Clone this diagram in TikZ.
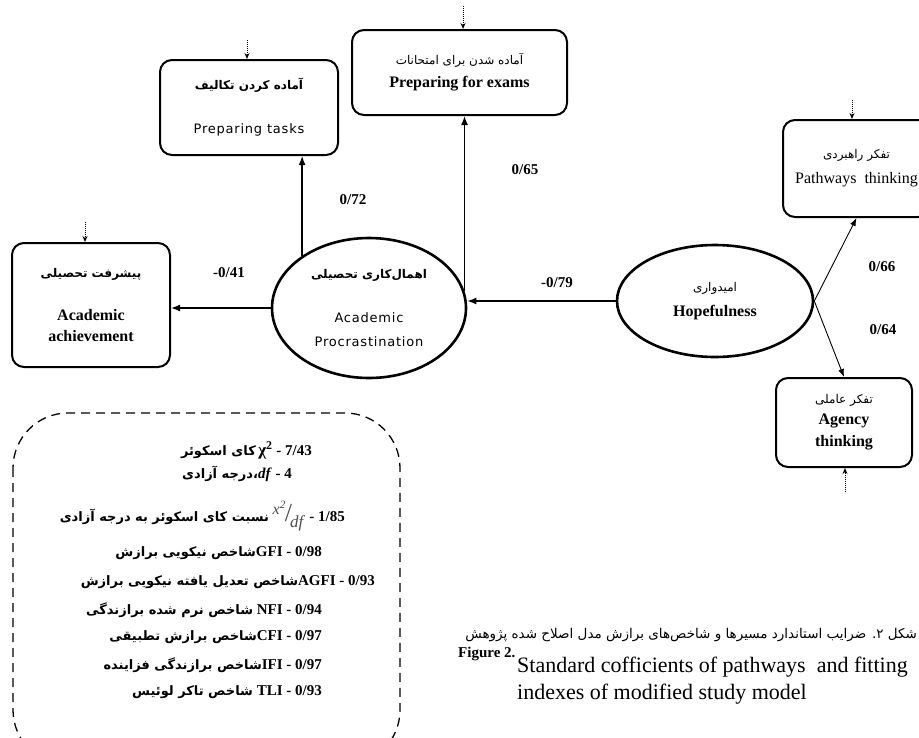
\documentclass[tikz,border=0pt]{standalone}
\usepackage{fontspec}
\setmainfont{Liberation Serif}
\newfontfamily\fa[Script=Arabic]{DejaVu Sans}
\newfontfamily\verd[LetterSpace=6]{DejaVu Sans}
\TeXXeTstate=1
\usetikzlibrary{shapes.geometric,arrows.meta}
\newcommand{\pers}[1]{{\fa\beginR #1\endR}}
\newcommand{\fsz}[1]{\fontsize{#1}{#1}\selectfont}

\begin{document}
\begin{tikzpicture}[x=1pt,y=-1pt,
    obsbox/.style={draw, rounded corners=12pt, line width=2pt, align=center, inner sep=0pt},
    latent/.style={draw, ellipse, line width=2.6pt, align=center, inner sep=0pt},
    pathline/.style={-{Latex[length=9pt,width=7pt]}, line width=1.4pt},
    thinline/.style={-{Latex[length=8pt,width=6pt]}, line width=0.9pt},
    errarrow/.style={-{Stealth[length=6pt,width=5pt]}, line width=1pt, densely dotted},
    coef/.style={font=\fsz{15}\bfseries},
    fitline/.style={anchor=east, font=\fsz{15}\bfseries, inner sep=0pt}]
    \useasboundingbox (0,0) rectangle (919,737);
    \clip (0,0) rectangle (919,737);

    % observed variables
    \node[obsbox, minimum width=215, minimum height=85] (exams) at (459.5,72.5)
        {{\fsz{12}\pers{آماده شدن برای امتحانات}}\\[8pt]{\fsz{16}\bfseries Preparing for exams}};
    \node[obsbox, minimum width=178, minimum height=95] (tasks) at (249,107.5)
        {{\fsz{12}\bfseries\pers{آماده کردن تکالیف}}\\[30pt]{\fsz{13}\verd Preparing tasks}};
    \node[obsbox, minimum width=158, minimum height=124] (achiev) at (91,305)
        {{\fsz{12}\bfseries\pers{پیشرفت تحصیلی}}\\[28pt]{\fsz{16}\bfseries Academic}\\[9pt]{\fsz{16}\bfseries achievement}};
    \node[obsbox, minimum width=147, minimum height=97] (pathw) at (856.5,168.5)
        {{\fsz{12}\pers{تفکر راهبردی}}\\[10pt]{\fsz{16}Pathways\ \ thinking}};
    \node[obsbox, minimum width=136, minimum height=89] (agency) at (844,422.5)
        {{\fsz{12}\pers{تفکر عاملی}}\\[6pt]{\fsz{16}\bfseries Agency}\\[7pt]{\fsz{16}\bfseries thinking}};

    % latent variables
    \node[latent, minimum width=194, minimum height=140] (proc) at (369,308)
        {{\fsz{12}\bfseries\pers{اهمال‌کاری تحصیلی}}\\[30pt]{\fsz{13}\verd Academic}\\[12pt]{\fsz{13}\verd Procrastination}};
    \node[latent, minimum width=196, minimum height=112] (hope) at (715,301)
        {{\fsz{12}\pers{امیدواری}}\\[10pt]{\fsz{16}\bfseries Hopefulness}};

    % error terms
    \coordinate (eexams) at (463,6);
    \coordinate (etasks) at (247,40);
    \coordinate (eachiev) at (85,222);
    \coordinate (epathw) at (852,100);
    \coordinate (eagency) at (845,492);
    \draw[errarrow] (eexams) -- (eexams |- exams.north);
    \draw[errarrow] (etasks) -- (etasks |- tasks.north);
    \draw[errarrow] (eachiev) -- (eachiev |- achiev.north);
    \draw[errarrow] (epathw) -- (epathw |- pathw.north);
    \draw[errarrow] (eagency) -- (eagency |- agency.south);

    % paths
    \draw[pathline] (proc.west) -- (proc.west -| achiev.east);
    \draw[pathline] (proc.142.7) -- (proc.142.7 |- tasks.south);
    \draw[pathline] (proc.10.3) -- (proc.10.3 |- exams.south);
    \draw[pathline] (hope.west) -- (hope.west -| proc.east);
    \draw[thinline] (hope.east) -- (pathw.south);
    \draw[thinline] (hope.east) -- (agency.north);

    % coefficients
    \node[coef] (c72) at (353,200) {0/72};
    \node[coef] (c65) at (525,170) {0/65};
    \node[coef] (c41) at (229,273) {-0/41};
    \node[coef] (c79) at (557,283) {-0/79};
    \node[coef] (c66) at (882,267) {0/66};
    \node[coef] (c64) at (883,330) {0/64};

    % fit indexes
    \draw[line width=1.3pt, dash pattern=on 9pt off 6pt, rounded corners=55pt]
        (13,413) rectangle (400,765);
    \node[fitline] (fchi) at (312,450) {{\fsz{13}\pers{کای اسکوئر}}\,{\fsz{17}χ\textsuperscript{2}} - 7/43};
    \node[fitline] (fdf) at (292,474) {{\fsz{13}\pers{درجه آزادی}{\fa ،}}\textit{df} - 4};
    \node[fitline] (fratio) at (345,516) {{\fsz{13}\pers{نسبت کای اسکوئر به درجه آزادی}}\ %
        {\mdseries\color{black!70}\raisebox{7pt}{\itshape\fsz{16}x\textsuperscript{2}}\kern-1pt{\fsz{26}/}\kern-2pt\raisebox{-6pt}{\itshape\fsz{17}df}}\hspace{6pt}- 1/85};
    \node[fitline] (fgfi) at (322,553) {{\fsz{13}\pers{شاخص نیکویی برازش}}GFI - 0/98};
    \node[fitline] (fagfi) at (375,582) {{\fsz{13}\pers{شاخص تعدیل یافته نیکویی برازش}}AGFI - 0/93};
    \node[fitline] (fnfi) at (322,610) {{\fsz{13}\pers{شاخص نرم شده برازندگی}} NFI - 0/94};
    \node[fitline] (fcfi) at (322,637) {{\fsz{13}\pers{شاخص برازش تطبیقی}}CFI - 0/97};
    \node[fitline] (fifi) at (322,665) {{\fsz{13}\pers{شاخص برازندگی فزاینده}}IFI - 0/97};
    \node[fitline] (ftli) at (322,692) {{\fsz{13}\pers{شاخص تاکر لوئیس}} TLI - 0/93};

    % caption
    \node[anchor=east, font=\fsz{13.5}, inner sep=0pt] (capfa) at (917,635)
        {\pers{شکل ۲. ضرایب استاندارد مسیرها و شاخص‌های برازش مدل اصلاح شده پژوهش}};
    \node[anchor=west, font=\fsz{15}\bfseries, inner sep=0pt] (figlbl) at (458,654) {Figure 2.};
    \node[anchor=west, font=\fsz{22}, inner sep=0pt] (capen1) at (517,667)
        {Standard cofficients of pathways\ \ and fitting};
    \node[anchor=west, font=\fsz{22}, inner sep=0pt] (capen2) at (517,694)
        {indexes of modified study model};
\end{tikzpicture}
\end{document}
